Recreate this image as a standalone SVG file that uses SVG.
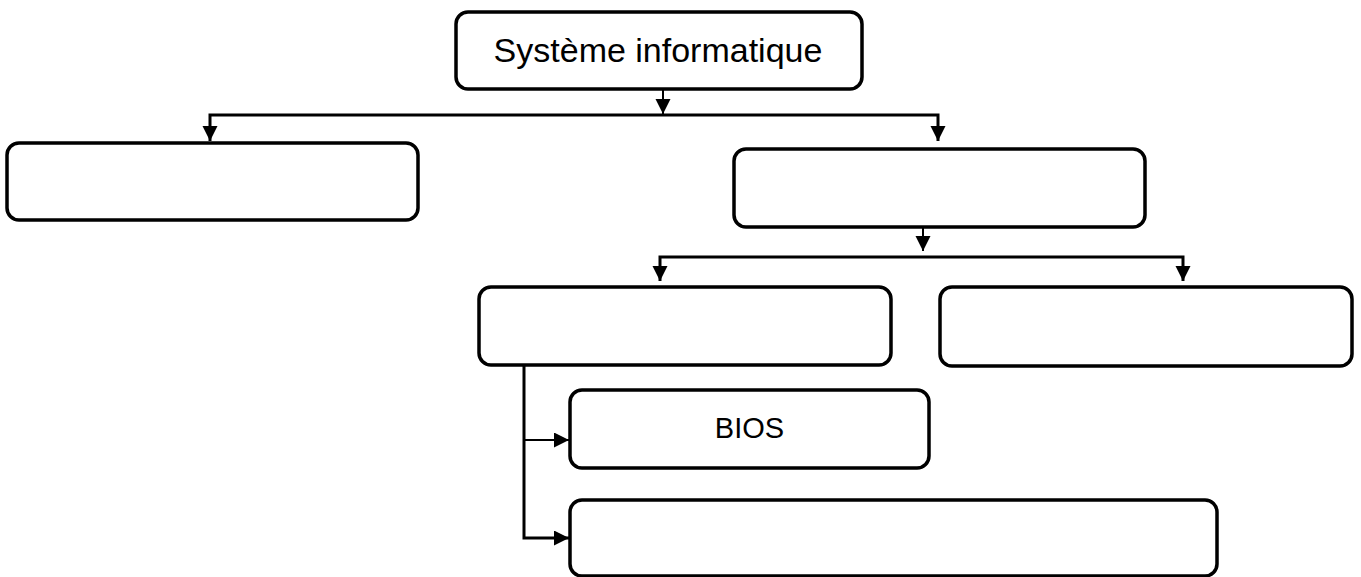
<svg xmlns="http://www.w3.org/2000/svg" width="1361" height="577" viewBox="0 0 1361 577">
  <style>
    .box { fill: #ffffff; stroke: #000000; stroke-width: 3.5; }
    .conn { fill: none; stroke: #000000; stroke-width: 3; }
    .thin { fill: none; stroke: #000000; stroke-width: 2; }
    .lbl { font-family: "Liberation Sans", Arial, sans-serif; fill: #000000; text-anchor: middle; }
  </style>
  <defs>
    <marker id="arrow" markerUnits="userSpaceOnUse" markerWidth="16" markerHeight="16" refX="15" refY="7.5" orient="auto">
      <path d="M0,0 L15,7.5 L0,15 z" fill="#000000"/>
    </marker>
  </defs>
  <rect width="1361" height="577" fill="#ffffff"/>

  <g id="connectors">
    <path class="thin" d="M663,89 V114" marker-end="url(#arrow)"/>
    <path class="conn" d="M663,115 H210 V141" marker-end="url(#arrow)"/>
    <path class="conn" d="M663,115 H938 V141" marker-end="url(#arrow)"/>
    <path class="thin" d="M923,227 V251" marker-end="url(#arrow)"/>
    <path class="conn" d="M923,257 H660 V281" marker-end="url(#arrow)"/>
    <path class="conn" d="M923,257 H1183 V281" marker-end="url(#arrow)"/>
    <path class="conn" d="M524,365 V538 H569" marker-end="url(#arrow)"/>
    <path class="thin" d="M524,440 H569" marker-end="url(#arrow)"/>
  </g>

  <g id="node-systeme">
    <rect class="box" x="456" y="12" width="406" height="77" rx="12"/>
    <text class="lbl" x="658" y="62" font-size="34">Système informatique</text>
  </g>
  <g id="node-left">
    <rect class="box" x="7" y="143" width="411" height="77" rx="12"/>
  </g>
  <g id="node-right">
    <rect class="box" x="734" y="149" width="411" height="78" rx="12"/>
  </g>
  <g id="node-mid-left">
    <rect class="box" x="479" y="287" width="412" height="78" rx="12"/>
  </g>
  <g id="node-mid-right">
    <rect class="box" x="940" y="287" width="412" height="79" rx="12"/>
  </g>
  <g id="node-bios">
    <rect class="box" x="570" y="390" width="359" height="78" rx="12"/>
    <text class="lbl" x="749.5" y="438" font-size="29">BIOS</text>
  </g>
  <g id="node-bottom">
    <rect class="box" x="570" y="500" width="647" height="76" rx="12"/>
  </g>
</svg>
